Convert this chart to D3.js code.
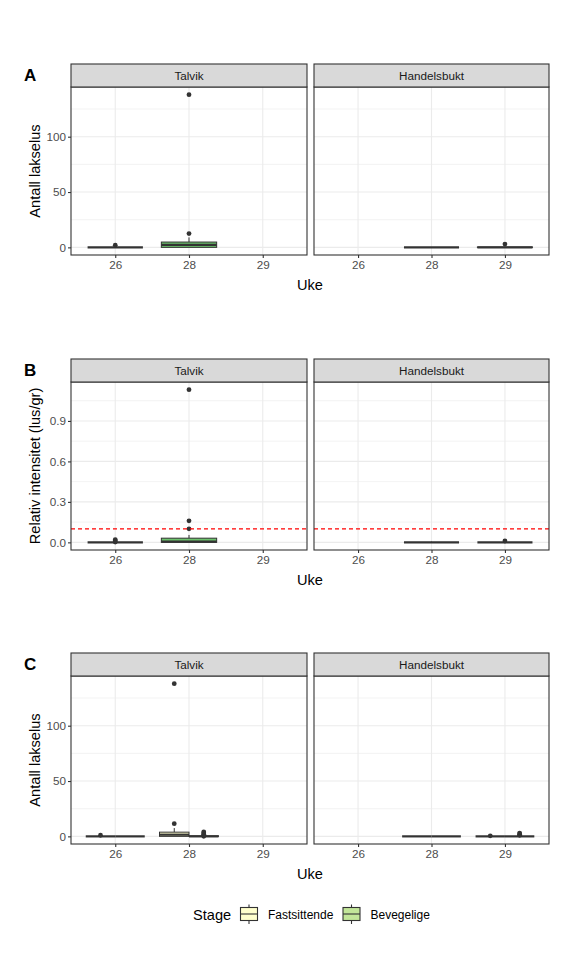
<!DOCTYPE html>
<html><head><meta charset="utf-8">
<script src="https://cdn.jsdelivr.net/npm/d3@7/dist/d3.min.js"></script>
<style>body{margin:0;background:#fff}svg{display:block}text{font-family:"Liberation Sans",Arial,sans-serif}</style>
</head><body>
<script>
// ---------- data ----------
const weeks = ["26", "28", "29"];
const sites = ["Talvik", "Handelsbukt"];
const stages = ["Fastsittende", "Bevegelige"];
const stageColors = ["#ffffcc", "#c2e699"];
const countTicks = [0, 50, 100];
const intensTicks = [0, 0.3, 0.6, 0.9];
const intensThreshold = 0.1;

// boxplot summaries: site, week, stage, q1, median, q3, lower whisker, upper whisker, outliers
const statsA = [
  {site:"Talvik", week:"26", stage:"Bevegelige", q1:0, med:0, q3:0, lo:0, hi:0, out:[2]},
  {site:"Talvik", week:"28", stage:"Bevegelige", q1:0, med:2.2, q3:4.8, lo:0, hi:9, out:[12.5, 138]},
  {site:"Handelsbukt", week:"28", stage:"Bevegelige", q1:0, med:0, q3:0, lo:0, hi:0, out:[]},
  {site:"Handelsbukt", week:"29", stage:"Bevegelige", q1:0, med:0, q3:0.3, lo:0, hi:0.5, out:[3]}
];
const statsB = [
  {site:"Talvik", week:"26", stage:"Bevegelige", q1:0, med:0, q3:0, lo:0, hi:0, out:[0.002, 0.012, 0.02]},
  {site:"Talvik", week:"28", stage:"Bevegelige", q1:0, med:0.005, q3:0.031, lo:0, hi:0.055, out:[0.1, 0.16, 1.132]},
  {site:"Handelsbukt", week:"28", stage:"Bevegelige", q1:0, med:0, q3:0, lo:0, hi:0.005, out:[]},
  {site:"Handelsbukt", week:"29", stage:"Bevegelige", q1:0, med:0, q3:0, lo:0, hi:0, out:[0.01]}
];
const statsC = [
  {site:"Talvik", week:"26", stage:"Fastsittende", q1:0, med:0, q3:0, lo:0, hi:0, out:[1]},
  {site:"Talvik", week:"26", stage:"Bevegelige", q1:0, med:0, q3:0, lo:0, hi:0, out:[]},
  {site:"Talvik", week:"28", stage:"Fastsittende", q1:0, med:1.5, q3:3.8, lo:0, hi:7.5, out:[11.5, 138]},
  {site:"Talvik", week:"28", stage:"Bevegelige", q1:0, med:0, q3:0.5, lo:0, hi:0.5, out:[0, 1, 2, 3, 4]},
  {site:"Handelsbukt", week:"28", stage:"Fastsittende", q1:0, med:0, q3:0, lo:0, hi:0, out:[]},
  {site:"Handelsbukt", week:"28", stage:"Bevegelige", q1:0, med:0, q3:0, lo:0, hi:0, out:[]},
  {site:"Handelsbukt", week:"29", stage:"Fastsittende", q1:0, med:0, q3:0, lo:0, hi:0, out:[0.5]},
  {site:"Handelsbukt", week:"29", stage:"Bevegelige", q1:0, med:0, q3:0, lo:0, hi:0, out:[1, 2, 3]}
];

// ---------- drawing ----------
const W = 576, H = 960;
const svg = d3.select("body").append("svg").attr("width", W).attr("height", H);
const color = d3.scaleOrdinal(stages, stageColors);
const singleFill = "#6cc36c";
const dark = "#333333";

const panelX = [[71, 307], [314, 549]];
const stripH = 23, panelH = 168;

const rows = [
  {id:"A", top:64, stats:statsA, ticks:countTicks, fmt:d3.format("d"), title:"Antall lakselus", dodge:false, hline:null},
  {id:"B", top:359, stats:statsB, ticks:intensTicks, fmt:d3.format(".1f"), title:"Relativ intensitet (lus/gr)", dodge:false, hline:intensThreshold},
  {id:"C", top:653, stats:statsC, ticks:countTicks, fmt:d3.format("d"), title:"Antall lakselus", dodge:true, hline:null}
];

rows.forEach(row => {
  const pTop = row.top + stripH, pBot = pTop + panelH;
  const vals = row.stats.flatMap(d => [d.lo, d.hi, ...d.out]);
  const [mn, mx] = d3.extent(vals);
  const pad = (mx - mn) * 0.05;
  const y = d3.scaleLinear().domain([mn - pad, mx + pad]).range([pBot, pTop]);
  const step = row.ticks[1] - row.ticks[0];
  const minor = d3.range(Math.floor(y.domain()[0] / step) * step + step / 2, y.domain()[1], step)
    .filter(v => v >= y.domain()[0] && v <= y.domain()[1]);

  sites.forEach((site, si) => {
    const [x0, x1] = panelX[si];
    const x = d3.scalePoint().domain(weeks).range([x0, x1]).padding(0.6);
    const g = svg.append("g");
    // grid
    g.selectAll(".mn").data(minor).join("line")
      .attr("x1", x0).attr("x2", x1).attr("y1", d => y(d)).attr("y2", d => y(d))
      .attr("stroke", "#ebebeb").attr("stroke-width", 0.6);
    g.selectAll(".mj").data(row.ticks).join("line")
      .attr("x1", x0).attr("x2", x1).attr("y1", d => y(d)).attr("y2", d => y(d))
      .attr("stroke", "#ebebeb").attr("stroke-width", 1.1);
    g.selectAll(".vx").data(weeks).join("line")
      .attr("x1", d => x(d)).attr("x2", d => x(d)).attr("y1", pTop).attr("y2", pBot)
      .attr("stroke", "#ebebeb").attr("stroke-width", 1.1);

    // boxes
    const step = x.step();
    const data = row.stats.filter(d => d.site === site);
    data.forEach(d => {
      let cx, bw, fill;
      if (row.dodge) {
        const tot = 0.8 * step;
        bw = tot / 2;
        cx = x(d.week) + (stages.indexOf(d.stage) === 0 ? -tot / 4 : tot / 4);
        fill = color(d.stage);
      } else {
        bw = 0.75 * step;
        cx = x(d.week);
        fill = singleFill;
      }
      g.append("line").attr("x1", cx).attr("x2", cx).attr("y1", y(d.q3)).attr("y2", y(d.hi))
        .attr("stroke", dark).attr("stroke-width", 1);
      g.append("line").attr("x1", cx).attr("x2", cx).attr("y1", y(d.q1)).attr("y2", y(d.lo))
        .attr("stroke", dark).attr("stroke-width", 1);
      g.append("rect").attr("x", cx - bw / 2).attr("width", bw)
        .attr("y", y(d.q3)).attr("height", Math.max(0, y(d.q1) - y(d.q3)))
        .attr("fill", fill).attr("stroke", dark).attr("stroke-width", 1);
      g.append("line").attr("x1", cx - bw / 2).attr("x2", cx + bw / 2).attr("y1", y(d.med)).attr("y2", y(d.med))
        .attr("stroke", dark).attr("stroke-width", 2.2);
      g.selectAll(null).data(d.out).join("circle")
        .attr("cx", cx).attr("cy", v => y(v)).attr("r", 2.4).attr("fill", dark);
    });

    if (row.hline !== null) {
      g.append("line").attr("x1", x0).attr("x2", x1).attr("y1", y(row.hline)).attr("y2", y(row.hline))
        .attr("stroke", "red").attr("stroke-width", 1.1).attr("stroke-dasharray", "4,3");
    }

    // border
    g.append("rect").attr("x", x0).attr("y", pTop).attr("width", x1 - x0).attr("height", panelH)
      .attr("fill", "none").attr("stroke", dark).attr("stroke-width", 1.1);
    // strip
    g.append("rect").attr("x", x0).attr("y", row.top).attr("width", x1 - x0).attr("height", stripH)
      .attr("fill", "#d9d9d9").attr("stroke", dark).attr("stroke-width", 1.1);
    g.append("text").attr("x", (x0 + x1) / 2).attr("y", row.top + stripH / 2 + 4)
      .attr("text-anchor", "middle").attr("font-size", 11.7).attr("fill", "#1a1a1a").text(site);

    // x axis
    const xa = g.append("g").attr("transform", `translate(0,${pBot})`)
      .call(d3.axisBottom(x).tickSize(3).tickPadding(3));
    xa.select(".domain").remove();
    xa.selectAll(".tick line").attr("stroke", dark).attr("stroke-width", 1.1);
    xa.selectAll(".tick text").attr("font-size", 11.7).attr("fill", "#4d4d4d")
      .attr("font-family", "Liberation Sans, Arial, sans-serif");

    if (si === 0) {
      const ya = g.append("g").attr("transform", `translate(${x0},0)`)
        .call(d3.axisLeft(y).tickValues(row.ticks).tickFormat(row.fmt).tickSize(3).tickPadding(2));
      ya.select(".domain").remove();
      ya.selectAll(".tick line").attr("stroke", dark).attr("stroke-width", 1.1);
      ya.selectAll(".tick text").attr("font-size", 11.7).attr("fill", "#4d4d4d")
        .attr("font-family", "Liberation Sans, Arial, sans-serif");
    }
  });

  // titles
  svg.append("text").attr("transform", `translate(40,${(pTop + pBot) / 2}) rotate(-90)`)
    .attr("text-anchor", "middle").attr("font-size", 14.6).attr("fill", "#000").text(row.title);
  svg.append("text").attr("x", (panelX[0][0] + panelX[1][1]) / 2).attr("y", pBot + 35)
    .attr("text-anchor", "middle").attr("font-size", 14.6).attr("fill", "#000").text("Uke");
  svg.append("text").attr("x", 24).attr("y", row.top + 17)
    .attr("font-size", 17).attr("font-weight", "bold").attr("fill", "#000").text(row.id);
});

// legend
const lg = svg.append("g");
lg.append("text").attr("x", 193).attr("y", 919.5).attr("font-size", 14.6).attr("fill", "#000").text("Stage");
const keyX = [240.5, 343];
stages.forEach((s, i) => {
  const kx = keyX[i], kc = kx + 8.5;
  lg.append("line").attr("x1", kc).attr("x2", kc).attr("y1", 904.5).attr("y2", 924).attr("stroke", dark).attr("stroke-width", 1.1);
  lg.append("rect").attr("x", kx).attr("y", 907.5).attr("width", 17).attr("height", 13)
    .attr("fill", color(s)).attr("stroke", dark).attr("stroke-width", 1.1);
  lg.append("line").attr("x1", kx).attr("x2", kx + 17).attr("y1", 914).attr("y2", 914).attr("stroke", dark).attr("stroke-width", 1.1);
  lg.append("text").attr("x", kx + 27.5).attr("y", 918.5).attr("font-size", 12).attr("fill", "#000").text(s);
});
</script>
</body></html>
